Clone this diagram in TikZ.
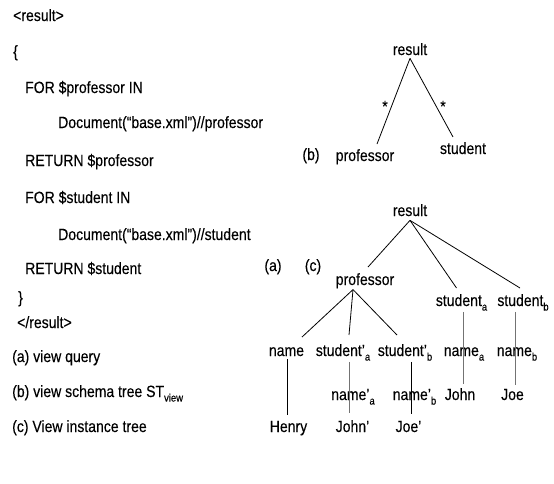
\documentclass[tikz,border=0pt]{standalone}
\usepackage{fontspec}
\setmainfont{Liberation Sans}[FakeStretch=0.86,FakeBold=0.25]
\newcommand{\lowsub}[1]{\raisebox{-0.28em}{\fontsize{11}{11}\selectfont #1}}
\begin{document}
\begin{tikzpicture}[x=1pt,y=-1pt,
  every node/.style={inner sep=0pt,font=\fontsize{16.3}{18}\selectfont},
  codeline/.style={anchor=base west},
  tnode/.style={anchor=base},
  edge/.style={line width=0.8pt,black},
  gedge/.style={line width=0.9pt,black!55}]
\useasboundingbox (0,0) rectangle (554,483);
% left column: query and captions
\node[codeline] (q1) at (13,21) {<result>};
\node[codeline] (q2) at (13,57) {\{};
\node[codeline] (q3) at (25,93) {FOR \$professor IN};
\node[codeline] (q4) at (58,128) {Document(“base.xml”)//professor};
\node[codeline] (q5) at (25,166) {RETURN \$professor};
\node[codeline] (q6) at (25,203) {FOR \$student IN};
\node[codeline] (q7) at (58,240) {Document(“base.xml”)//student};
\node[codeline] (q8) at (25,274) {RETURN \$student};
\node[codeline] (q9) at (18,303) {\}};
\node[codeline] (q10) at (17,328) {</result>};
\node[codeline] (ca) at (12,362) {(a) view query};
\node[codeline] (cb) at (12,397) {(b) view schema tree ST\lowsub{view}};
\node[codeline] (cc) at (12,432) {(c) View instance tree};
% (b) schema tree
\node[tnode] (rb) at (410,55) {result};
\node[tnode] (pb) at (365,161) {professor};
\node[tnode] (sb) at (463,154) {student};
\node[tnode] (lb) at (311,160) {(b)};
\node[tnode] (st1) at (385,112) {*};
\node[tnode] (st2) at (443,112) {*};
\draw[edge] ([yshift=-3pt]rb.south) -- ([xshift=12pt,yshift=5pt]pb.north);
\draw[edge] ([yshift=-3pt]rb.south) -- ([xshift=-10pt,yshift=5pt]sb.north);
% (c) instance tree
\node[tnode] (rc) at (410,216) {result};
\node[tnode] (la) at (273,271) {(a)};
\node[tnode] (lc) at (313,271) {(c)};
\node[tnode] (pc) at (365,285) {professor};
\node[tnode] (sa) at (461.5,306) {student\lowsub{a}};
\node[tnode] (sbb) at (523,306) {student\lowsub{b}};
\node[tnode] (nm) at (286.5,356) {name};
\node[tnode] (spa) at (343,356) {student’\lowsub{a}};
\node[tnode] (spb) at (405,356) {student’\lowsub{b}};
\node[tnode] (na) at (464,356) {name\lowsub{a}};
\node[tnode] (nb) at (517,356) {name\lowsub{b}};
\node[tnode] (npa) at (353,400) {name’\lowsub{a}};
\node[tnode] (npb) at (414.5,400) {name’\lowsub{b}};
\node[tnode] (jn) at (460,400) {John};
\node[tnode] (jo) at (512.5,400) {Joe};
\node[tnode] (hy) at (288.5,432) {Henry};
\node[tnode] (jnp) at (352.5,432) {John’};
\node[tnode] (jop) at (408.5,432) {Joe’};
\draw[edge] ([yshift=-4pt]rc.south) -- ([xshift=3pt,yshift=6pt]pc.north);
\draw[edge] ([yshift=-4pt]rc.south) -- ([xshift=-5pt,yshift=6pt]sa.north);
\draw[edge] ([yshift=-4pt]rc.south) -- ([xshift=-3pt,yshift=6pt]sbb.north);
\draw[edge] ([xshift=-12pt,yshift=-1pt]pc.south) -- ([xshift=15.5pt,yshift=10pt]nm.north);
\draw[edge] ([xshift=-12pt,yshift=-1pt]pc.south) -- ([xshift=6pt,yshift=9pt]spa.north);
\draw[edge] ([xshift=-12pt,yshift=-1pt]pc.south) -- ([xshift=-8pt,yshift=9pt]spb.north);
% vertical chains (drawn through the middle labels)
\draw[edge] ([xshift=0.5pt,yshift=-3pt]nm.south) -- ([xshift=-1.5pt,yshift=6pt]hy.north);
\draw[gedge] ([xshift=6pt,yshift=-1pt]spa.south) -- ([xshift=-3.5pt,yshift=7pt]jnp.north);
\draw[edge] ([xshift=6pt,yshift=-1pt]spb.south) -- ([xshift=2.5pt,yshift=7pt]jop.north);
\draw[gedge] ([xshift=1.5pt,yshift=-1pt]sa.south) -- ([xshift=3pt,yshift=4pt]jn.north);
\draw[gedge] ([xshift=-8pt,yshift=-1pt]sbb.south) -- ([xshift=2.5pt,yshift=4pt]jo.north);
\end{tikzpicture}
\end{document}
